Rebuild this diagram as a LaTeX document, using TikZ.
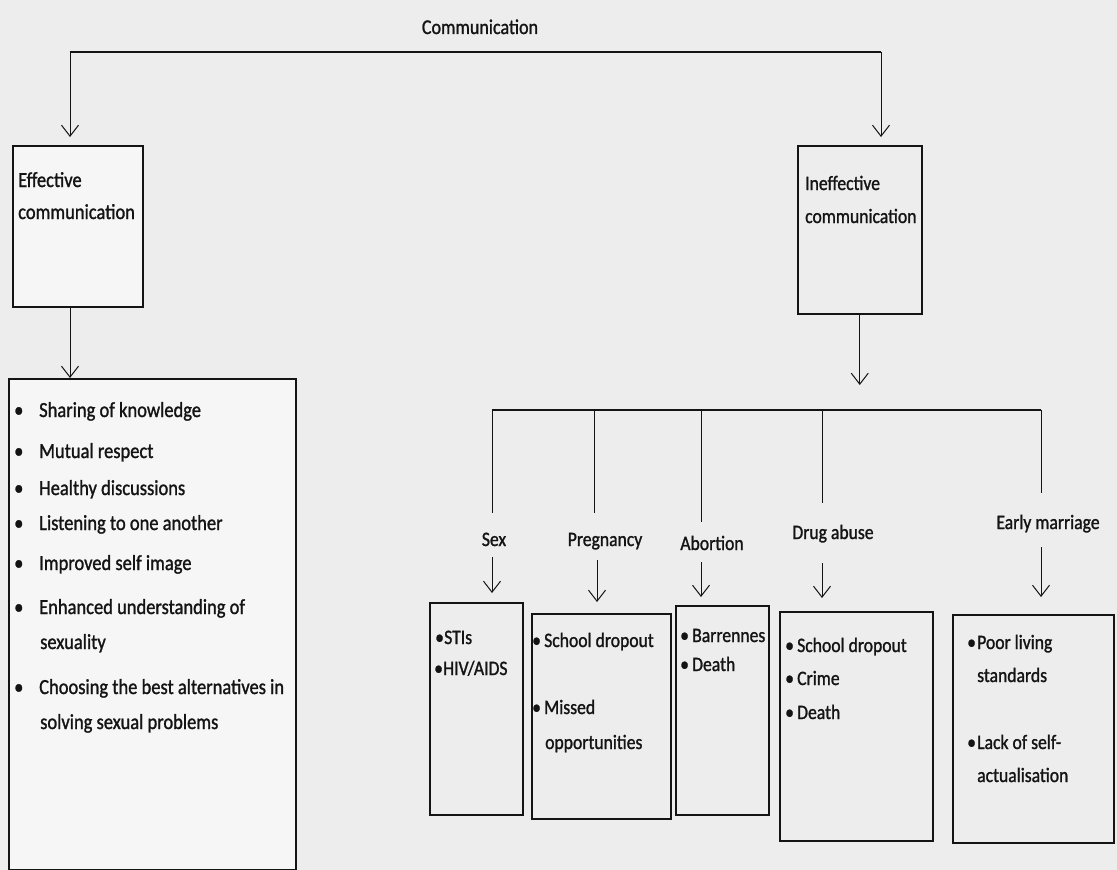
\documentclass[tikz,border=0pt]{standalone}
\usepackage{fontspec}
\setmainfont{Carlito}[FakeStretch=0.86, FakeBold=1.2]
\usetikzlibrary{arrows.meta}
\definecolor{bg}{RGB}{237,237,237}
\definecolor{boxfill}{RGB}{246,246,246}
\definecolor{ink}{RGB}{20,20,20}
\begin{document}
\begin{tikzpicture}[x=1pt,y=-1pt,
  every node/.style={inner sep=0pt, text=ink},
  bigtxt/.style={font=\fontsize{21.5}{25}\selectfont, anchor=west, text height=14pt, text depth=0pt},
  efftxt/.style={font=\fontsize{21.5}{25}\selectfont, anchor=west, text height=14pt, text depth=0pt},
  smalltxt/.style={font=\fontsize{20.5}{24}\selectfont, anchor=west, text height=14pt, text depth=0pt},
  cattxt/.style={font=\fontsize{20.5}{24}\selectfont, anchor=center, text height=14pt, text depth=0pt},
  box/.style={draw=ink, line width=1.5pt, anchor=north west, inner sep=0pt},
  conn/.style={draw=ink, line width=1pt},
  arr/.style={draw=ink, line width=1pt, -{Straight Barb[length=11pt,width=17pt,line width=1pt]}}
]
\useasboundingbox (0,0) rectangle (1117,870);
\clip (0,0) rectangle (1117,870);
\fill[bg] (0,0) rectangle (1117,870);

% title
\node[font=\fontsize{21}{25}\selectfont, text height=14pt, text depth=0pt] (comm) at (480,27) {Communication};
\coordinate (tl) at (70,52);
\coordinate (tr) at (881,52);
\draw[ink, line width=2pt] (tl) -- (tr);

% boxes
\node[box, fill=boxfill, minimum width=130pt, minimum height=161pt] (beff) at (12,145) {};
\node[box, minimum width=124pt, minimum height=168pt] (bineff) at (797,145) {};
\node[box, fill=boxfill, minimum width=287pt, minimum height=491pt] (blist) at (8,378) {};

\node[efftxt] (teff1) at (18,180) {Effective};
\node[efftxt] (teff2) at (18,212) {communication};
\node[smalltxt] (tineff1) at (805,183) {Ineffective};
\node[smalltxt] (tineff2) at (805,216) {communication};

\draw[arr, shorten >=8pt] (tl) -- (tl |- beff.north);
\draw[arr, shorten >=8pt] (tr) -- (tr |- bineff.north);
\draw[arr] (tl |- beff.south) -- (tl |- blist.north);

% list
\node[bigtxt] (l1) at (14,410) {\makebox[25pt][l]{•}Sharing of knowledge};
\node[bigtxt] (l2) at (14,451) {\makebox[25pt][l]{•}Mutual respect};
\node[bigtxt] (l3) at (14,488) {\makebox[25pt][l]{•}Healthy discussions};
\node[bigtxt] (l4) at (14,523) {\makebox[25pt][l]{•}Listening to one another};
\node[bigtxt] (l5) at (14,563) {\makebox[25pt][l]{•}Improved self image};
\node[bigtxt] (l6) at (14,607) {\makebox[25pt][l]{•}Enhanced understanding of};
\node[bigtxt] (l6b) at (40,642) {sexuality};
\node[bigtxt] (l7) at (14,687) {\makebox[25pt][l]{•}Choosing the best alternatives in};
\node[bigtxt] (l7b) at (40,722) {solving sexual problems};

% branch line
\coordinate (hsex) at (492,410);
\coordinate (hpreg) at (594,410);
\coordinate (habo) at (701,410);
\coordinate (hdrug) at (822,410);
\coordinate (hmar) at (1041,410);
\draw[arr, shorten >=25pt] (bineff.south) -- (bineff.south |- hsex);
\draw[ink, line width=1.8pt] (hsex) -- (hmar);

% category labels
\node[cattxt] (lsex) at (494,539) {Sex};
\node[cattxt] (lpreg) at (605,539) {Pregnancy};
\node[cattxt] (labo) at (712,543) {Abortion};
\node[cattxt] (ldrug) at (833,532) {Drug abuse};
\node[cattxt] (lmar) at (1048,522) {Early marriage};

% result boxes
\node[box, minimum width=93pt, minimum height=212pt] (bsex) at (429,602) {};
\node[box, minimum width=139pt, minimum height=205pt] (bpreg) at (531,613) {};
\node[box, minimum width=93pt, minimum height=209pt] (babo) at (675,605) {};
\node[box, minimum width=153pt, minimum height=229pt] (bdrug) at (779,611) {};
\node[box, minimum width=161pt, minimum height=228pt] (bmar) at (952,614) {};

% verticals
\draw[conn, shorten >=19pt] (hsex) -- (hsex |- lsex.north);
\draw[conn, shorten >=19pt] (hpreg) -- (hpreg |- lpreg.north);
\draw[conn, shorten >=14pt] (habo) -- (habo |- labo.north);
\draw[conn, shorten >=22pt] (hdrug) -- (hdrug |- ldrug.north);
\draw[conn, shorten >=22pt] (hmar) -- (hmar |- lmar.north);

% arrows to boxes
\draw[arr, shorten <=11pt, shorten >=9pt] (hsex |- lsex.south) -- (hsex |- bsex.north);
\draw[arr, shorten <=14pt, shorten >=11pt] ([xshift=3pt]hpreg |- lpreg.south) -- ([xshift=3pt]hpreg |- bpreg.north);
\draw[arr, shorten <=12pt, shorten >=8pt] (habo |- labo.south) -- (habo |- babo.north);
\draw[arr, shorten <=24pt, shorten >=13pt] (hdrug |- ldrug.south) -- (hdrug |- bdrug.north);
\draw[arr, shorten <=18pt, shorten >=17pt] (hmar |- lmar.south) -- (hmar |- bmar.north);

% box contents
\node[smalltxt] (s1) at (435,637) {\makebox[9pt][l]{•}STIs};
\node[smalltxt] (s2) at (434,668) {\makebox[9pt][l]{•}HIV/AIDS};

\node[smalltxt] (p1) at (532,640) {\makebox[12pt][l]{•}School dropout};
\node[smalltxt] (p2) at (532,707) {\makebox[12pt][l]{•}Missed};
\node[smalltxt] (p3) at (545,742) {opportunities};

\node[smalltxt] (a1) at (680,635) {\makebox[12pt][l]{•}Barrennes};
\node[smalltxt] (a2) at (680,664) {\makebox[12pt][l]{•}Death};

\node[smalltxt] (d1) at (785,645) {\makebox[12pt][l]{•}School dropout};
\node[smalltxt] (d2) at (785,678) {\makebox[12pt][l]{•}Crime};
\node[smalltxt] (d3) at (785,712) {\makebox[12pt][l]{•}Death};

\node[smalltxt] (m1) at (967,642) {\makebox[10pt][l]{•}Poor living};
\node[smalltxt] (m2) at (977,675) {standards};
\node[smalltxt] (m3) at (967,742) {\makebox[10pt][l]{•}Lack of self-};
\node[smalltxt] (m4) at (977,775) {actualisation};
\end{tikzpicture}
\end{document}
